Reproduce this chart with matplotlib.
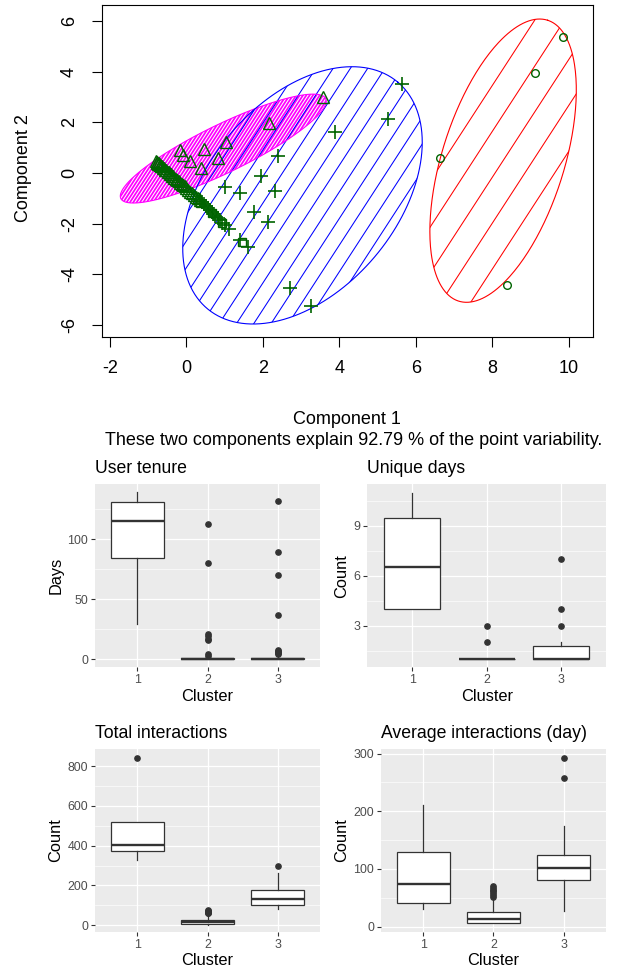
import numpy as np
import matplotlib
matplotlib.use("Agg")
import matplotlib.pyplot as plt
from matplotlib.patches import Polygon
from matplotlib.collections import LineCollection
from matplotlib.ticker import MultipleLocator

plt.rcParams["font.family"] = ["Liberation Sans", "DejaVu Sans"]
plt.rcParams["axes.unicode_minus"] = False

# --- cluster plot on the first two components ---
circle_x = [9.85, 9.11, 6.63, 8.37]
circle_y = [5.36, 3.94, 0.58, -4.43]

tri_x = [3.58, 2.17, 1.03, 0.47, -0.16, 0.10, 0.84, 0.38, -0.09,
         -0.79, -0.77, -0.76, -0.74, -0.72, -0.70, -0.68, -0.66, -0.64, -0.61,
         -0.58, -0.55, -0.52, -0.49, -0.46, -0.43, -0.40, -0.37, -0.34, -0.31,
         -0.27, -0.24, -0.20, -0.16, -0.12, -0.08, -0.04, 0.00, 0.05, 0.10,
         0.15, 0.20, 0.25, 0.30, 0.35]
tri_y = [3.02, 1.99, 1.24, 0.94, 0.91, 0.49, 0.58, 0.19, 0.72,
         0.47, 0.41, 0.44, 0.37, 0.38, 0.32, 0.33, 0.27, 0.27, 0.20,
         0.19, 0.12, 0.11, 0.04, 0.03, -0.03, -0.05, -0.11, -0.13, -0.19,
         -0.23, -0.28, -0.32, -0.39, -0.43, -0.49, -0.53, -0.60, -0.65, -0.73,
         -0.79, -0.86, -0.93, -0.99, -1.06]

plus_x = [5.65, 5.26, 3.89, 2.40, 1.94, 1.01, 1.40, 2.32, 1.77, 2.14, 1.12,
          1.40, 1.60, 2.71, 3.26,
          0.36, 0.41, 0.46, 0.51, 0.56, 0.61, 0.66, 0.71, 0.76, 0.82, 0.88,
          0.94, 1.00]
plus_y = [3.52, 2.12, 1.63, 0.67, -0.12, -0.57, -0.80, -0.70, -1.53, -1.92,
          -2.23, -2.65, -2.91, -4.56, -5.26,
          -1.07, -1.15, -1.22, -1.30, -1.38, -1.45, -1.53, -1.61, -1.68, -1.77,
          -1.87, -1.96, -2.05]

square_x = [0.36, 0.66, 0.93, 1.45]
square_y = [-1.20, -1.59, -1.99, -2.72]

# cluster ellipses: centre, half major axis, half minor axis (data units)
ell_center = [(0.967, 0.968), (3.037, -0.881), (8.28, 0.49)]
ell_major = [(2.678, 1.976), (2.491, 4.474), (1.163, 5.55)]
ell_minor = [(-0.275, 0.852), (-1.895, 2.415), (-1.52, 0.729)]
ell_color = ["#FF00FF", "blue", "red"]

# --- box plots per cluster: whisker low, q1, median, q3, whisker high ---
clusters = [1, 2, 3]
tenure_box = [[29, 84, 115.5, 131, 139], [0, 0, 0, 1, 2], [0, 0, 0, 1, 2]]
tenure_out = [[], [113, 80, 21, 19, 17, 16, 4, 3], [132, 89, 70, 37, 8, 7, 6, 5, 4]]
days_box = [[4, 4, 6.5, 9.5, 11], [1, 1, 1, 1, 1], [1, 1, 1, 1.75, 2]]
days_out = [[], [2, 3], [3, 4, 7]]
total_box = [[330, 373, 403, 520, 520], [1, 7, 15, 28, 58], [82, 102, 130, 176, 261]]
total_out = [[842], [61, 64, 67, 70, 73, 76], [300]]
avg_box = [[31, 41.6, 74.6, 130, 210], [5.7, 7, 13.4, 25, 50], [27.7, 81, 101.8, 124, 174]]
avg_out = [[], [52, 55, 58, 61, 64, 67, 70], [257, 293]]

fig = plt.figure(figsize=(6.19, 9.71), dpi=100)

ax = fig.add_axes([0.1643, 0.6529, 0.7945, 0.3419])
ax.set_xlim(-2.211, 10.643)
ax.set_ylim(-6.48, 6.64)


def shade(ax, center, major, minor, edge, spacing, line_color, face="none", lw=0.75):
    t = np.linspace(0, 2 * np.pi, 300)
    c, a, b = np.asarray(center), np.asarray(major), np.asarray(minor)
    outline = c + np.outer(np.cos(t), a) + np.outer(np.sin(t), b)
    patch = Polygon(outline, closed=True, facecolor=face, edgecolor="none", zorder=1)
    ax.add_patch(patch)
    # hatch lines built in pixel space so the angle matches the screen
    tr = ax.transData
    cpx = tr.transform(c)
    ang = np.deg2rad(57)
    d = np.array([np.cos(ang), np.sin(ang)])
    nrm = np.array([-np.sin(ang), np.cos(ang)])
    reach = 220
    n = int(reach / spacing) + 1
    segs = []
    for k in range(-n, n + 1):
        mid = cpx + k * spacing * nrm
        segs.append(tr.inverted().transform([mid - reach * d, mid + reach * d]))
    lc = LineCollection(segs, colors=line_color, linewidths=lw, zorder=1.5)
    ax.add_collection(lc, autolim=False)
    lc.set_clip_path(patch)
    ax.plot(outline[:, 0], outline[:, 1], color=edge, lw=0.8, zorder=2)


shade(ax, ell_center[0], ell_major[0], ell_minor[0], ell_color[0], 2.8, "white",
      face=ell_color[0], lw=0.75)
shade(ax, ell_center[1], ell_major[1], ell_minor[1], ell_color[1], 14.5, ell_color[1])
shade(ax, ell_center[2], ell_major[2], ell_minor[2], ell_color[2], 25, ell_color[2])

green = "#006400"
ax.plot(circle_x, circle_y, "o", ms=5.5, mfc="none", mec=green, mew=1, zorder=3)
ax.plot(tri_x, tri_y, "^", ms=8.5, mfc="none", mec=green, mew=1, zorder=3)
ax.plot(plus_x, plus_y, "+", ms=10, mec=green, mew=1.2, zorder=3)
ax.plot(square_x, square_y, "s", ms=6, mfc="none", mec=green, mew=1, zorder=3)

ax.set_xticks(range(-2, 11, 2))
ax.set_yticks(range(-6, 7, 2))
ax.tick_params(direction="out", length=7.2, width=0.8, labelsize=13, color="black")
ax.tick_params(axis="x", pad=9)
ax.tick_params(axis="y", pad=10)
for lab in ax.get_yticklabels():
    lab.set_rotation(90)
    lab.set_va("center")
for s in ax.spines.values():
    s.set_linewidth(0.8)
fig.text(24 / 619, 1 - 168 / 971, "Component 2", rotation=90, fontsize=13,
         ha="center", va="center")
fig.text(347 / 619, 1 - 419 / 971, "Component 1", fontsize=13, ha="center", va="center")
fig.text(354 / 619, 1 - 440 / 971,
         "These two components explain 92.79 % of the point variability.",
         fontsize=13, ha="center", va="center")


def box_panel(rect, title, ylabel, box, out, ylim, major, minor):
    bx = fig.add_axes(rect)
    stats = [dict(whislo=b[0], q1=b[1], med=b[2], q3=b[3], whishi=b[4], fliers=o)
             for b, o in zip(box, out)]
    bx.bxp(stats, positions=clusters, widths=0.75, patch_artist=True, showcaps=False,
           boxprops=dict(facecolor="white", edgecolor="#333333", linewidth=0.9),
           whiskerprops=dict(color="#333333", linewidth=0.9),
           medianprops=dict(color="#333333", linewidth=1.7),
           flierprops=dict(marker="o", markerfacecolor="#333333",
                           markeredgecolor="#333333", markersize=3.8))
    bx.set_xlim(0.4, 3.6)
    bx.set_ylim(*ylim)
    bx.set_facecolor("#EBEBEB")
    for s in bx.spines.values():
        s.set_visible(False)
    bx.yaxis.set_major_locator(MultipleLocator(major))
    bx.yaxis.set_minor_locator(MultipleLocator(minor))
    bx.set_axisbelow(True)
    bx.grid(which="major", color="white", linewidth=0.9)
    bx.grid(which="minor", axis="y", color="white", linewidth=0.45)
    bx.tick_params(which="major", length=3, width=0.8, color="#333333",
                   labelcolor="#4D4D4D", labelsize=8.9, pad=2)
    bx.tick_params(which="minor", length=0)
    bx.set_xticks(clusters)
    bx.set_xticklabels([str(c) for c in clusters])
    bx.set_title(title, loc="left", fontsize=12.7, pad=8)
    bx.set_xlabel("Cluster", fontsize=11.8, labelpad=2)
    bx.set_ylabel(ylabel, fontsize=11.8, labelpad=3)
    return bx


box_panel([0.1535, 0.3128, 0.3635, 0.1885], "User tenure", "Days",
          tenure_box, tenure_out, (-6.7, 145.8), 50, 25)
box_panel([0.5934, 0.3128, 0.3856, 0.1885], "Unique days", "Count",
          days_box, days_out, (0.5, 11.5), 3, 1.5)
box_panel([0.1535, 0.0405, 0.3635, 0.1882], "Total interactions", "Count",
          total_box, total_out, (-32, 886), 200, 100)
box_panel([0.6155, 0.0405, 0.3635, 0.1882], "Average interactions (day)", "Count",
          avg_box, avg_out, (-8.7, 308), 100, 50)

fig.savefig("out.png", dpi=100)
